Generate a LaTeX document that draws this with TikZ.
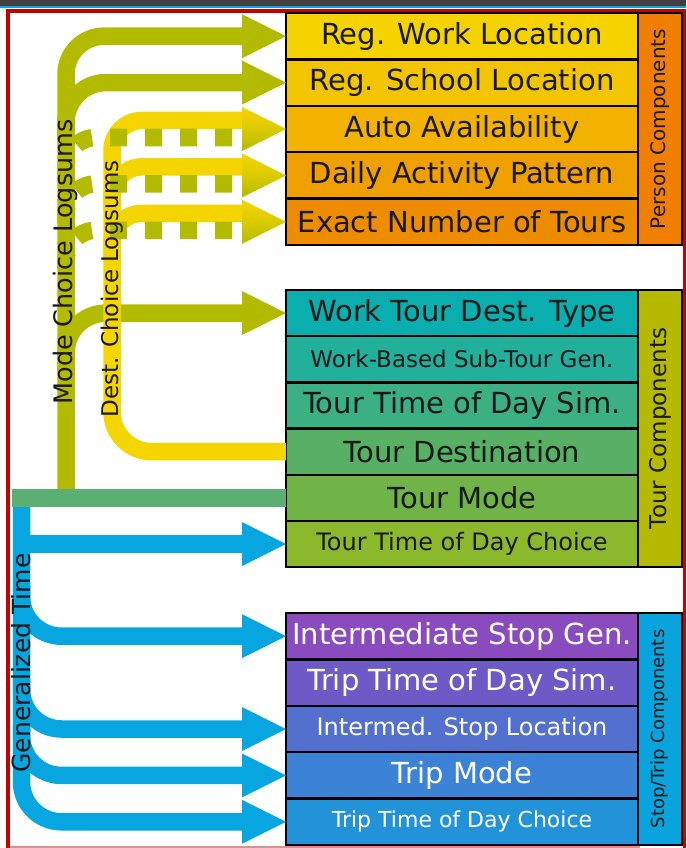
\documentclass[tikz,border=0pt]{standalone}
\usepackage{fontspec}
\setmainfont{DejaVu Sans}
\usepackage{tikz}
\usetikzlibrary{positioning}
\definecolor{regwork}{HTML}{F5D300}
\definecolor{regschool}{HTML}{F3C400}
\definecolor{autoavail}{HTML}{F3B200}
\definecolor{dailypat}{HTML}{F09F00}
\definecolor{exacttours}{HTML}{EE8C00}
\definecolor{personside}{HTML}{F07F00}
\definecolor{worktype}{HTML}{0AAEAE}
\definecolor{subtour}{HTML}{22AF9B}
\definecolor{tourtodsim}{HTML}{3AB083}
\definecolor{tourdest}{HTML}{57B064}
\definecolor{tourmode}{HTML}{70B448}
\definecolor{tourtod}{HTML}{8CB82C}
\definecolor{tourside}{HTML}{B5BA00}
\definecolor{stopgen}{HTML}{8A4BBF}
\definecolor{triptodsim}{HTML}{6E5AC6}
\definecolor{stoploc}{HTML}{5470CF}
\definecolor{tripmode}{HTML}{3C82D6}
\definecolor{triptod}{HTML}{2293D9}
\definecolor{stopside}{HTML}{09A4DD}
\definecolor{modeolive}{HTML}{B3BB00}
\definecolor{destyellow}{HTML}{F5D500}
\definecolor{tourgreen}{HTML}{5BAF74}
\definecolor{timeblue}{HTML}{08A6E0}
\definecolor{framered}{HTML}{C80000}
\newcommand{\bandtip}[2]{\path[#1] (#2) -- ++(-44,22) -- ++(0,-44) -- cycle;}

\begin{document}
\begin{tikzpicture}[x=1pt, y=-1pt,
    row/.style={draw=black, line width=2.4pt, outer sep=0pt, inner sep=0pt,
        minimum width=352pt, minimum height=46.4pt, text=black!90},
    side/.style={row, rotate=90, minimum height=44pt},
    big/.style={font=\fontsize{29}{30}\selectfont},
    small/.style={font=\fontsize{23}{24}\selectfont},
    band/.style={line width=17.5pt},
    shaft/.style={band, shorten >=43pt},
    trunklabel/.style={rotate=90, anchor=base, text=black!90}]
    \useasboundingbox (0,0) rectangle (686,848);
    \fill[black!75] (0,0) rectangle (686,6);
    \fill[timeblue] (0,6) rectangle (686,8);
    \draw[framered, line width=3.5pt] (7.8,848) |- (684.3,11) -- (684.3,848);
    \draw[framered!45, line width=2pt] (9.5,847) -- (640,847);

    \node[row, big, fill=regwork, anchor=north west] (regwork) at (286,13) {Reg. Work Location};
    \node[row, big, fill=regschool, below=0pt of regwork] (regschool) {Reg. School Location};
    \node[row, big, fill=autoavail, below=0pt of regschool] (autoavail) {Auto Availability};
    \node[row, big, fill=dailypat, below=0pt of autoavail] (dailypat) {Daily Activity Pattern};
    \node[row, big, fill=exacttours, below=0pt of dailypat] (exacttours) {Exact Number of Tours};
    \node[side, fill=personside, minimum width=232pt, anchor=north east,
        font=\fontsize{20}{20}\selectfont] (persons) at (regwork.north east) {Person Components};

    \node[row, big, fill=worktype, minimum height=46.2pt, anchor=north west] (worktype) at (286,290) {Work Tour Dest. Type};
    \node[row, small, fill=subtour, minimum height=46.2pt, below=0pt of worktype] (subtour) {Work-Based Sub-Tour Gen.};
    \node[row, big, fill=tourtodsim, minimum height=46.2pt, below=0pt of subtour] (tourtodsim) {Tour Time of Day Sim.};
    \node[row, big, fill=tourdest, minimum height=46.2pt, below=0pt of tourtodsim] (tourdest) {Tour Destination};
    \node[row, big, fill=tourmode, minimum height=46.2pt, below=0pt of tourdest] (tourmode) {Tour Mode};
    \node[row, font=\fontsize{24}{25}\selectfont, fill=tourtod, minimum height=46.2pt, below=0pt of tourmode] (tourtod) {Tour Time of Day Choice};
    \node[side, fill=tourside, minimum width=277pt, anchor=north east,
        font=\fontsize{23}{23}\selectfont] (tours) at (worktype.north east) {Tour Components};

    \node[row, big, text=white, fill=stopgen, anchor=north west] (stopgen) at (286,613) {Intermediate Stop Gen.};
    \node[row, big, text=white, fill=triptodsim, below=0pt of stopgen] (triptodsim) {Trip Time of Day Sim.};
    \node[row, font=\fontsize{24}{25}\selectfont, text=white, fill=stoploc, below=0pt of triptodsim] (stoploc) {Intermed. Stop Location};
    \node[row, big, text=white, fill=tripmode, below=0pt of stoploc] (tripmode) {Trip Mode};
    \node[row, font=\fontsize{22}{23}\selectfont, text=white, fill=triptod, below=0pt of tripmode] (triptod) {Trip Time of Day Choice};
    \node[side, fill=stopside, minimum width=232pt, anchor=north east,
        font=\fontsize{18}{18}\selectfont] (stops) at (stopgen.north east) {Stop/Trip Components};

    \coordinate (modefoot) at (66,489);
    \coordinate (destline) at (112,300);
    \coordinate (timefoot) at (21.5,507);
    \coordinate (leftedge) at (12,498);

    \draw[shaft, modeolive, rounded corners=38pt] (modefoot) |- (regwork.west);
    \draw[shaft, modeolive, rounded corners=40pt] (modefoot |- regschool.west) ++(0,60) |- (regschool.west);
    \draw[shaft, modeolive, rounded corners=40pt] (modefoot |- worktype.west) ++(0,60) |- (worktype.west);
    \bandtip{fill=modeolive}{regwork.west}
    \bandtip{fill=modeolive}{regschool.west}
    \bandtip{fill=modeolive}{worktype.west}

    \draw[band, destyellow, rounded corners=40pt, shorten >=43pt] (tourdest.west) -| (destline)
        [rounded corners=30pt] |- ([yshift=8.5pt]autoavail.west);
    \foreach \n in {dailypat, exacttours}
        \draw[shaft, destyellow, rounded corners=30pt] (destline |- \n.west) ++(0,36.5) |- ([yshift=8.5pt]\n.west);

    \foreach \n in {autoavail, dailypat, exacttours} {
        \draw[shaft, modeolive, rounded corners=30pt, dash pattern=on 17pt off 18pt, dash phase=28.9pt]
            (modefoot |- \n.west) ++(0,53.5) |- ([yshift=-8.5pt]\n.west);
        \bandtip{top color=destyellow, bottom color=modeolive, middle color=destyellow!60!modeolive}{\n.west}
    }

    \draw[shaft, timeblue] (timefoot) |- (tourtod.west);
    \draw[shaft, timeblue, rounded corners=40pt] (timefoot) |- (triptod.west);
    \foreach \n in {stopgen, stoploc, tripmode}
        \draw[shaft, timeblue, rounded corners=40pt] (timefoot |- \n.west) ++(0,-50) |- (\n.west);
    \foreach \n in {tourtod, stopgen, stoploc, tripmode, triptod}
        \bandtip{fill=timeblue}{\n.west}
    \draw[band, tourgreen, line width=18pt] (tourmode.west) -- (tourmode.west -| leftedge);

    \node[trunklabel, font=\fontsize{25.5}{26}\selectfont] (modelabel) at (72,262) {Mode Choice Logsums};
    \node[trunklabel, font=\fontsize{23}{24}\selectfont] (destlabel) at (118,289) {Dest. Choice Logsums};
    \node[trunklabel, font=\fontsize{25}{26}\selectfont] (timelabel) at (30.5,663) {Generalized Time};
\end{tikzpicture}
\end{document}
